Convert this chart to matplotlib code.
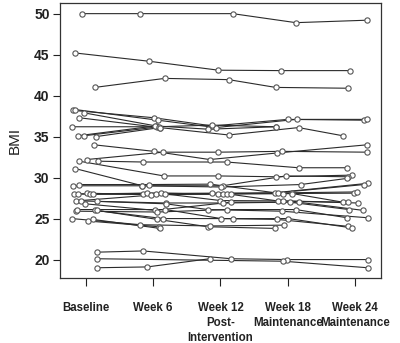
import numpy as np
import matplotlib
matplotlib.use("Agg")
import matplotlib.pyplot as plt

nan = np.nan
time_labels = ["Baseline", "Week 6", "Week 12\nPost-\nIntervention",
               "Week 18\nMaintenance", "Week 24\nMaintenance"]
time_points = [1, 2, 3, 4, 5]

# BMI per subject at each time point (nan = missing)
bmi = [
    [50.0, 50.0, 50.0, 48.9, 49.2],
    [45.2, 44.2, 43.1, 43.05, 43.05],
    [41.0, 42.1, 41.95, 41.0, 40.9],
    [38.2, 37.3, 36.3, 37.1, 37.0],
    [38.3, 37.0, 36.1, 37.1, 37.1],
    [37.9, 36.3, 35.9, 36.2, nan],
    [37.3, 36.1, 35.2, 36.1, 35.1],
    [36.2, 36.2, 36.4, 36.2, nan],
    [35.1, 36.3, nan, nan, nan],
    [35.1, 36.2, nan, nan, nan],
    [35.0, 36.1, nan, nan, nan],
    [34.0, 33.2, 32.2, 33.0, 34.0],
    [32.2, 33.1, 33.1, 33.2, 33.1],
    [32.0, 31.9, 31.9, 31.2, 31.2],
    [32.0, 30.2, 30.2, 30.1, 30.3],
    [31.1, 29.0, 29.0, 30.2, 30.1],
    [29.0, 29.0, 28.85, 29.15, 29.9],
    [29.15, 29.15, 29.2, 28.15, 29.3],
    [28.0, 28.0, 28.1, 28.15, 29.15],
    [28.0, 28.1, 28.05, 28.05, 28.1],
    [28.1, 27.9, 28.0, 28.15, 28.25],
    [28.0, 28.0, 28.0, 28.05, 27.0],
    [28.0, 28.1, 27.95, 27.15, 27.0],
    [27.15, 28.0, 27.2, 27.15, 26.9],
    [27.15, 26.9, 26.9, 27.0, 26.1],
    [26.8, 26.0, 27.0, 27.0, 26.0],
    [27.1, 26.8, 26.1, 25.9, 25.1],
    [25.9, 25.8, 26.1, 26.1, 25.1],
    [26.1, 26.1, 25.0, 24.9, 24.05],
    [26.0, 25.0, 25.0, 25.0, 23.85],
    [26.0, 24.9, 24.0, 23.8, nan],
    [25.0, 24.25, 24.1, 24.2, nan],
    [24.7, 24.0, nan, nan, nan],
    [24.9, 23.8, nan, nan, nan],
    [20.9, 21.05, 20.1, 20.0, 20.0],
    [20.1, nan, nan, 19.8, 19.0],
    [19.0, 19.1, 20.1, nan, nan],
]

# horizontal jitter of each point (in time units)
x_jitter = [
    [-0.06, -0.19, 0.18, 0.12, 0.18],
    [-0.16, -0.07, -0.03, -0.10, -0.07],
    [0.13, 0.17, 0.12, -0.18, -0.10],
    [-0.19, 0.01, -0.12, 0.00, 0.13],
    [-0.16, 0.07, -0.07, 0.13, 0.18],
    [-0.03, 0.04, -0.18, -0.18, 0.0],
    [-0.10, 0.10, 0.12, 0.16, -0.18],
    [-0.21, 0.06, -0.12, -0.18, 0.0],
    [-0.12, 0.03, 0.0, 0.0, 0.0],
    [-0.03, 0.09, 0.0, 0.0, 0.0],
    [0.15, 0.10, 0.0, 0.0, 0.0],
    [0.12, 0.01, -0.16, -0.16, 0.18],
    [0.01, 0.15, -0.03, -0.09, 0.18],
    [0.18, -0.15, 0.09, 0.16, -0.12],
    [-0.10, 0.16, -0.03, -0.18, -0.04],
    [-0.16, -0.16, 0.03, -0.03, -0.10],
    [-0.19, -0.16, 0.01, 0.19, -0.12],
    [-0.10, -0.06, -0.15, -0.19, 0.19],
    [-0.18, -0.15, -0.12, -0.15, 0.13],
    [-0.12, -0.09, -0.04, -0.07, -0.01],
    [0.01, -0.03, 0.03, 0.06, 0.03],
    [0.06, 0.04, 0.10, 0.07, -0.18],
    [0.10, 0.12, 0.16, -0.15, -0.10],
    [-0.15, 0.18, 0.0, -0.07, 0.04],
    [-0.07, 0.19, 0.03, 0.03, -0.09],
    [-0.01, 0.03, 0.16, 0.16, 0.12],
    [0.16, 0.19, -0.19, -0.09, 0.19],
    [-0.15, 0.06, 0.09, 0.12, -0.12],
    [-0.13, 0.18, 0.01, -0.16, -0.10],
    [0.13, 0.15, 0.18, 0.01, -0.04],
    [0.16, 0.06, -0.18, -0.19, 0.0],
    [-0.21, -0.19, -0.15, -0.06, 0.0],
    [0.03, 0.09, 0.0, 0.0, 0.0],
    [0.10, 0.10, 0.0, 0.0, 0.0],
    [0.16, -0.15, 0.16, -0.01, 0.19],
    [0.16, 0.0, 0.0, -0.07, 0.19],
    [0.16, -0.09, -0.16, 0.0, 0.0],
]

y_ticks = [20, 25, 30, 35, 40, 45, 50]

fig = plt.figure(figsize=(4.0, 3.43), dpi=100)
ax = fig.add_axes([0.15, 0.1895, 0.8025, 0.8018])

for vals, jit in zip(bmi, x_jitter):
    v = np.array(vals, dtype=float)
    x = np.array(time_points, dtype=float) + np.array(jit)
    m = np.isfinite(v)
    ax.plot(x[m], v[m], color="#2b2b2b", lw=0.8, zorder=2)
    ax.plot(x[m], v[m], ls="none", marker="o", ms=3.8, mfc="white",
            mec="#555555", mew=0.8, zorder=3)

ax.set_xlim(0.614, 5.386)
ax.set_ylim(17.75, 51.3)
ax.set_xticks(time_points)
ax.set_xticklabels(time_labels, fontfamily="Liberation Sans",
                   fontweight="bold", fontsize=8.3, linespacing=1.35,
                   va="top")
ax.set_yticks(y_ticks)
ax.set_yticklabels([str(t) for t in y_ticks], fontfamily="Liberation Sans",
                   fontweight="bold", fontsize=10)
ax.tick_params(axis="x", direction="out", length=6, width=0.8,
               pad=11, colors="#222222")
ax.tick_params(axis="y", direction="out", length=5, width=0.8,
               pad=2.5, colors="#222222")
ax.set_ylabel("BMI", fontfamily="Liberation Sans", fontsize=11,
              labelpad=9, color="#222222")
for s in ax.spines.values():
    s.set_color("#333333")
    s.set_linewidth(0.9)

fig.savefig("out.png", dpi=100)
